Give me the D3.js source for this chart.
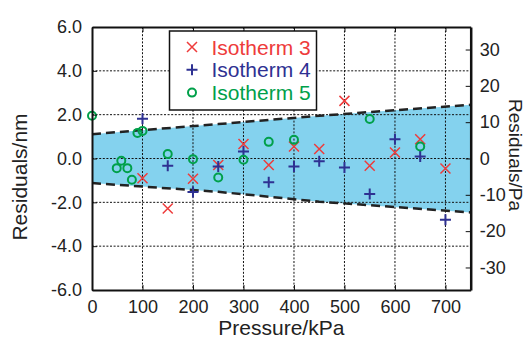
<!DOCTYPE html>
<html>
	<head>
		<script src="https://d3js.org/d3.v7.min.js"></script>
		<style>
			body {
				margin: 0;
				background: #fff;
			}
			text {
				font-family: 'Liberation Sans', Arial, sans-serif;
			}
			.grid {
				stroke: #111;
				stroke-width: 1;
				stroke-dasharray: 2, 1.6;
			}
			.axis path,
			.axis line {
				stroke: #111;
			}
			.axis text {
				fill: #222;
				font-size: 18px;
			}
		</style>
	</head>
	<body>
		<svg id="chart" width="529" height="338"></svg>
		<script>
			// pressures (kPa) and residuals (nm)
			const iso3P = [100, 150, 200, 250, 300, 350, 400, 450, 500, 550, 600, 650, 700];
			const iso3R = [-0.9, -2.28, -0.92, -0.3, 0.66, -0.3, 0.55, 0.43, 2.63, -0.33, 0.27, 0.88, -0.46];

			const iso4P = [100, 150, 200, 250, 300, 350, 400, 450, 500, 550, 600, 650, 700];
			const iso4R = [1.81, -0.33, -1.53, -0.36, 0.32, -1.08, -0.36, -0.12, -0.41, -1.62, 0.88, 0.09, -2.8];

			const iso5P = [0, 49, 58, 70, 79, 90, 100, 150, 200, 250, 300, 350, 400, 550, 650];
			const iso5R = [1.95, -0.44, -0.1, -0.44, -0.97, 1.16, 1.26, 0.2, -0.03, -0.87, -0.06, 0.76, 0.85, 1.8, 0.55];

			// confidence band
			const bandP = [0, 250, 450, 750];
			const bandUp = [1.11, 1.57, 1.95, 2.45];
			const bandLow = [-1.12, -1.52, -1.97, -2.46];

			const xTicks = [0, 100, 200, 300, 400, 500, 600, 700];
			const yTicks = [-6, -4, -2, 0, 2, 4, 6];
			const y2Ticks = [-30, -20, -10, 0, 10, 20, 30];
			const seriesNames = ['Isotherm 3', 'Isotherm 4', 'Isotherm 5'];

			const colors = { red: '#ee3b3b', blue: '#2e3192', green: '#00a04a' };

			const svg = d3.select('#chart');
			const margin = { top: 27, right: 58.3, bottom: 48, left: 92 };
			const width = 529;
			const height = 338;

			const x = d3.scaleLinear().domain([0, 750]).range([margin.left, width - margin.right]);
			const y = d3.scaleLinear().domain([-6, 6]).range([height - margin.bottom, margin.top]);
			const y2 = d3.scaleLinear().domain([-36.2, 36.2]).range([height - margin.bottom, margin.top]);

			// band
			const bandData = bandP.map((p, i) => ({ p: p, up: bandUp[i], low: bandLow[i] }));
			svg
				.append('path')
				.datum(bandData)
				.attr('fill', '#84d2ee')
				.attr(
					'd',
					d3
						.area()
						.x((d) => x(d.p))
						.y0((d) => y(d.low))
						.y1((d) => y(d.up))
				);

			// grid
			svg
				.selectAll('line.gx')
				.data(xTicks.filter((d) => d > 0))
				.join('line')
				.attr('class', 'grid gx')
				.attr('x1', (d) => x(d))
				.attr('x2', (d) => x(d))
				.attr('y1', y(6))
				.attr('y2', y(-6));
			svg
				.selectAll('line.gy')
				.data(yTicks.filter((d) => Math.abs(d) < 6))
				.join('line')
				.attr('class', 'grid gy')
				.attr('x1', x(0))
				.attr('x2', x(750))
				.attr('y1', (d) => y(d))
				.attr('y2', (d) => y(d));

			// dashed band edges
			['up', 'low'].forEach((k) => {
				svg
					.append('path')
					.datum(bandData)
					.attr('fill', 'none')
					.attr('stroke', '#222')
					.attr('stroke-width', 2.5)
					.attr('stroke-dasharray', '9,5')
					.attr(
						'd',
						d3
							.line()
							.x((d) => x(d.p))
							.y((d) => y(d[k]))
					);
			});

			function drawCross(g, color) {
				g.append('path').attr('d', 'M-5,-5L5,5M-5,5L5,-5').attr('stroke', color).attr('stroke-width', 1.5).attr('fill', 'none');
			}
			function drawPlus(g, color) {
				g.append('path').attr('d', 'M-5.5,0H5.5M0,-5.5V5.5').attr('stroke', color).attr('stroke-width', 2).attr('fill', 'none');
			}
			function drawCircle(g, color) {
				g.append('circle').attr('r', 4).attr('stroke', color).attr('stroke-width', 2).attr('fill', 'none');
			}

			const series = [
				{ p: iso3P, r: iso3R, draw: drawCross, color: colors.red },
				{ p: iso4P, r: iso4R, draw: drawPlus, color: colors.blue },
				{ p: iso5P, r: iso5R, draw: drawCircle, color: colors.green }
			];

			series.forEach((s) => {
				s.p.forEach((p, i) => {
					let g = svg.append('g').attr('transform', `translate(${x(p)},${y(s.r[i])})`);
					s.draw(g, s.color);
				});
			});

			// axes
			const plotBottom = height - margin.bottom;
			const plotRight = width - margin.right;

			svg
				.append('g')
				.attr('class', 'axis')
				.attr('transform', `translate(0,${plotBottom})`)
				.call(d3.axisBottom(x).tickValues(xTicks).tickSizeInner(-5).tickSizeOuter(0).tickPadding(10))
				.call((g) => g.select('.domain').attr('stroke-width', 2));

			svg
				.append('g')
				.attr('class', 'axis')
				.attr('transform', `translate(0,${margin.top})`)
				.call(d3.axisTop(x).tickValues(xTicks).tickSizeInner(-5).tickSizeOuter(0).tickFormat(''))
				.call((g) => g.select('.domain').attr('stroke-width', 2));

			svg
				.append('g')
				.attr('class', 'axis')
				.attr('transform', `translate(${margin.left},0)`)
				.call(
					d3
						.axisLeft(y)
						.tickValues(yTicks)
						.tickSizeInner(-5)
						.tickSizeOuter(0)
						.tickPadding(10)
						.tickFormat((d) => d.toFixed(1))
				)
				.call((g) => g.select('.domain').attr('stroke-width', 2));

			svg
				.append('g')
				.attr('class', 'axis')
				.attr('transform', `translate(${plotRight},0)`)
				.call(
					d3
						.axisRight(y2)
						.tickValues(y2Ticks)
						.tickSizeInner(-5)
						.tickSizeOuter(0)
						.tickPadding(9)
						.tickFormat((d) => String(d))
				)
				.call((g) => g.select('.domain').attr('stroke-width', 2.5));

			// axis titles
			svg
				.append('text')
				.attr('x', (margin.left + plotRight) / 2)
				.attr('y', 335)
				.attr('text-anchor', 'middle')
				.attr('font-size', 21)
				.attr('fill', '#222')
				.text('Pressure/kPa');

			svg
				.append('text')
				.attr('transform', 'translate(27,177) rotate(-90)')
				.attr('text-anchor', 'middle')
				.attr('font-size', 21)
				.attr('fill', '#222')
				.text('Residuals/nm');

			svg
				.append('text')
				.attr('transform', 'translate(509,155) rotate(90)')
				.attr('text-anchor', 'middle')
				.attr('font-size', 19)
				.attr('fill', '#222')
				.text('Residuals/Pa');

			// legend
			const legend = svg.append('g').attr('transform', 'translate(169.5,31)');
			legend.append('rect').attr('width', 147).attr('height', 79).attr('fill', '#fff').attr('stroke', '#111').attr('stroke-width', 1.5);
			series.forEach((s, i) => {
				let row = legend.append('g').attr('transform', `translate(0,${16 + i * 22.8})`);
				let m = row.append('g').attr('transform', 'translate(22.5,0)');
				s.draw(m, s.color);
				row
					.append('text')
					.attr('x', 42)
					.attr('y', 7.5)
					.attr('font-size', 21)
					.attr('fill', s.color)
					.text(seriesNames[i]);
			});
		</script>
	</body>
</html>
